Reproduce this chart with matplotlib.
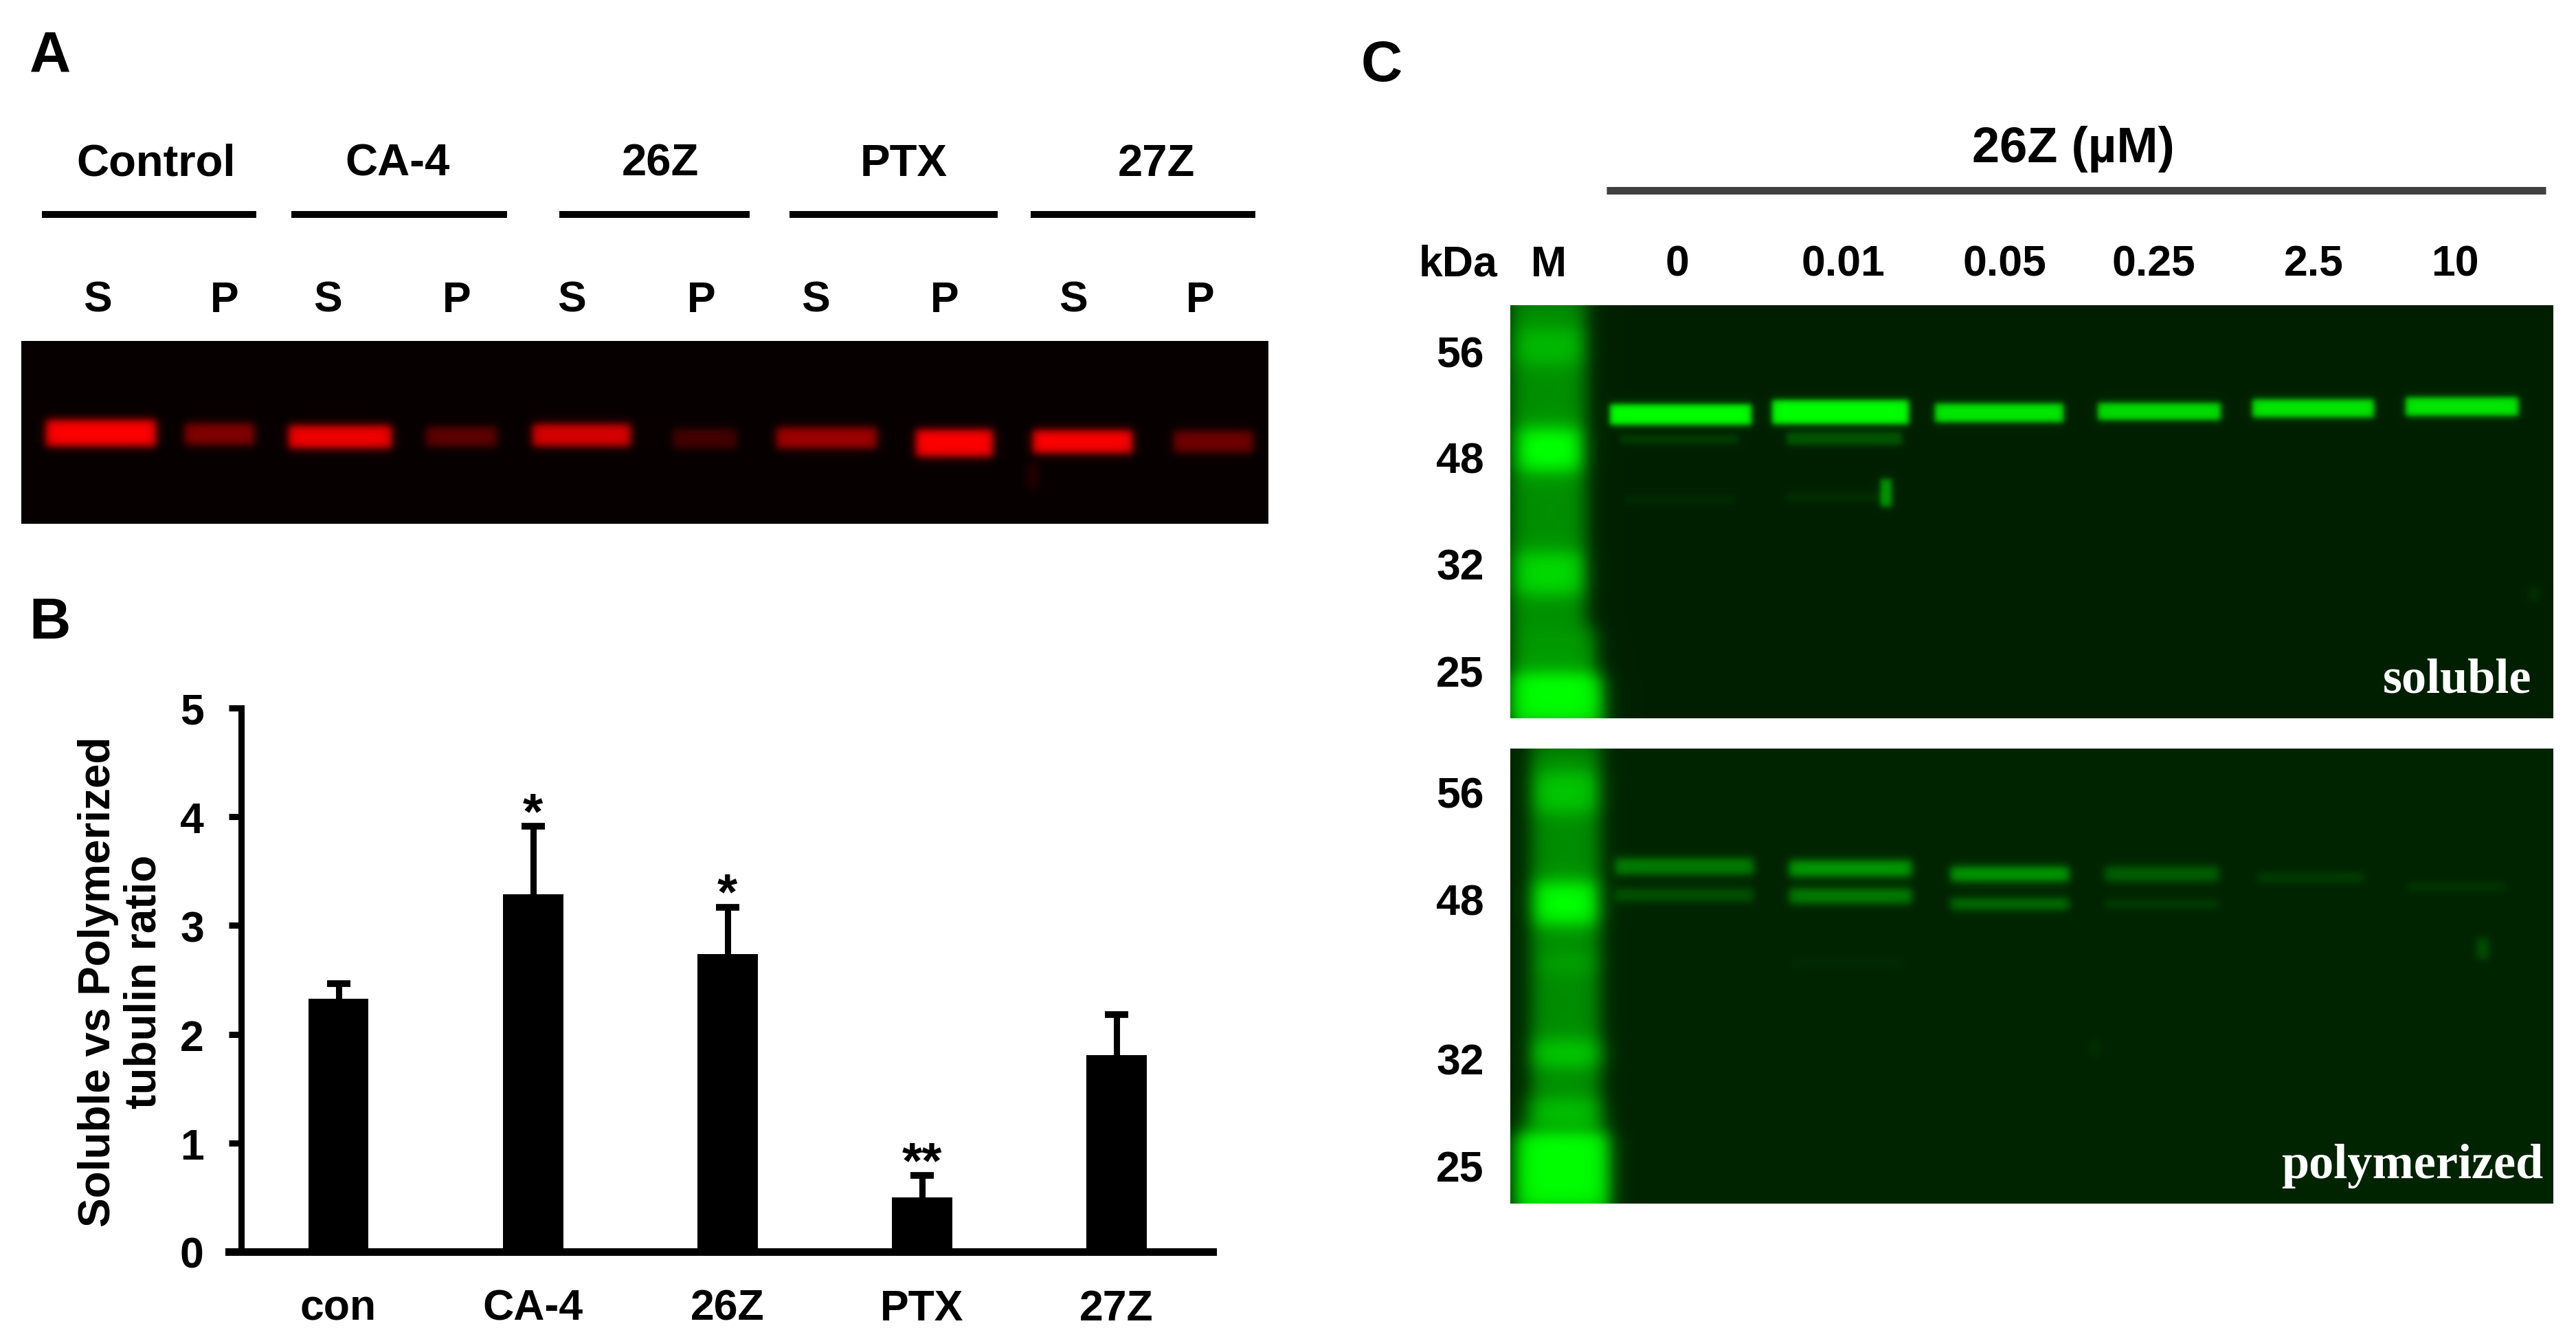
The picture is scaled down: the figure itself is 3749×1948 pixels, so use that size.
import numpy as np
import matplotlib
matplotlib.use("Agg")
import matplotlib.pyplot as plt

W, H = 3749, 1949
plt.rcParams['font.family'] = ['Liberation Sans', 'DejaVu Sans']
plt.rcParams['font.weight'] = 'bold'

# panel B data
drugs = ['con', 'CA-4', '26Z', 'PTX', '27Z']
ratio = [2.325, 3.29, 2.74, 0.50, 1.81]
ratio_err = [0.14, 0.62, 0.43, 0.20, 0.37]
stars = ['', '*', '*', '**', '']

# panel A labels
group_names = ['Control', 'CA-4', '26Z', 'PTX', '27Z']
group_x = [227, 579, 961, 1315, 1683]
group_lines = [(61, 373), (424, 738), (814, 1091), (1149, 1452), (1500, 1827)]
lane_names = ['S', 'P'] * 5
lane_x = [142, 327, 477, 665, 832, 1021, 1187, 1375, 1562, 1747]

# panel A gel bands: x0, x1, y0, y1, strength
red_bands = [
    (67, 227, 612, 650, 1.0), (269, 370, 617, 648, 0.5), (420, 570, 620, 653, 0.95),
    (620, 723, 622, 650, 0.36), (775, 918, 618, 650, 0.85), (979, 1072, 625, 653, 0.25),
    (1130, 1276, 623, 653, 0.62), (1333, 1445, 626, 665, 1.0), (1503, 1648, 627, 660, 1.0),
    (1708, 1824, 628, 659, 0.42), (1496, 1510, 675, 712, 0.14),
]

# panel C labels
conc_names = ['0', '0.01', '0.05', '0.25', '2.5', '10']
conc_x = [2441, 2682, 2917, 3134, 3367, 3573]
kda_names = ['56', '48', '32', '25']
kda_y_soluble = [513, 667, 822, 978]
kda_y_polymer = [1154, 1310, 1542, 1698]

# panel C gel bands
soluble_ladder = [
    (2198, 2308, 430, 915, 0.5), (2205, 2305, 480, 530, 0.2), (2210, 2300, 625, 685, 0.55),
    (2205, 2305, 805, 865, 0.35), (2200, 2322, 915, 990, 0.55), (2198, 2332, 985, 1060, 1.0),
]
soluble_bands = [
    (2343, 2549, 589, 619, 1.0), (2579, 2778, 583, 618, 1.0), (2816, 3003, 588, 615, 0.9),
    (3053, 3232, 587, 612, 0.85), (3278, 3455, 582, 608, 0.9), (3501, 3665, 579, 606, 0.9),
    (2358, 2530, 634, 646, 0.14), (2600, 2768, 630, 648, 0.24),
    (2365, 2525, 722, 734, 0.05), (2600, 2740, 718, 730, 0.07),
    (2737, 2753, 698, 738, 0.55), (3680, 3696, 855, 875, 0.07),
]
polymer_ladder = [
    (2228, 2328, 1080, 1640, 0.48), (2232, 2325, 1125, 1182, 0.28), (2232, 2325, 1285, 1345, 0.55),
    (2240, 2325, 1390, 1415, 0.12), (2228, 2335, 1515, 1552, 0.3), (2215, 2335, 1600, 1660, 0.25),
    (2205, 2342, 1650, 1765, 1.0),
]
polymer_bands = [
    (2351, 2552, 1250, 1273, 0.42), (2351, 2552, 1294, 1312, 0.22),
    (2604, 2782, 1253, 1276, 0.55), (2604, 2782, 1294, 1315, 0.42),
    (2839, 3011, 1262, 1283, 0.55), (2839, 3011, 1308, 1324, 0.36),
    (3063, 3229, 1262, 1283, 0.28), (3063, 3229, 1310, 1322, 0.13),
    (3286, 3441, 1272, 1284, 0.14), (3504, 3648, 1286, 1296, 0.11),
    (2604, 2770, 1396, 1408, 0.04), (3605, 3621, 1366, 1396, 0.22), (3043, 3055, 1514, 1538, 0.07),
]


def gel_image(extent, bands, blur):
    x0, x1, y0, y1 = extent
    xx = np.arange(x0, x1) + 0.5
    yy = np.arange(y0, y1) + 0.5
    img = np.zeros((len(yy), len(xx)))
    for bx0, bx1, by0, by1, amp in bands:
        px = 0.5 * (np.tanh((xx - bx0) / blur) - np.tanh((xx - bx1) / blur))
        py = 0.5 * (np.tanh((yy - by0) / blur) - np.tanh((yy - by1) / blur))
        img = img + amp * np.outer(py, px)
    return img


def draw_gel(fig, extent, bands, channel, base, blur=5, ladder=None):
    x0, x1, y0, y1 = extent
    ax = fig.add_axes([x0 / W, 1 - y1 / H, (x1 - x0) / W, (y1 - y0) / H])
    sig = gel_image(extent, bands, blur)
    if ladder:
        sig = sig + gel_image(extent, ladder, 16)
    rgb = np.zeros(sig.shape + (3,))
    rgb[..., channel] = base + (1 - base) * np.clip(sig, 0, 1)
    ax.imshow(rgb, extent=(x0, x1, y1, y0), aspect='auto', interpolation='nearest')
    ax.axis('off')


def label(fig, x, y, s, size=45, **kw):
    kw.setdefault('ha', 'center')
    fig.text(x / W, 1 - (y + 5) / H, s, fontsize=size, va='center', **kw)


def rule(fig, x0, x1, y, lw=10, color='black'):
    fig.add_artist(plt.Line2D([x0 / W, x1 / W], [1 - y / H, 1 - y / H], color=color,
                              lw=lw * 0.72, solid_capstyle='butt'))


fig = plt.figure(figsize=(W / 100, H / 100), dpi=100, facecolor='white')

# A
label(fig, 73, 78, 'A', size=60)
for name, x, (l0, l1) in zip(group_names, group_x, group_lines):
    label(fig, x, 234, name, size=47)
    rule(fig, l0, l1, 313)
for name, x in zip(lane_names, lane_x):
    label(fig, x, 432, name)
draw_gel(fig, (31, 1846, 497, 763), red_bands, 0, 0.025, blur=7)

# B
label(fig, 73, 902, 'B', size=60)
ax = fig.add_axes([351 / W, 1 - 1822 / H, (1765 - 351) / W, (1822 - 1031) / H])
pos = np.arange(len(drugs))
bars = ax.bar(pos, ratio, width=0.31, color='black',
              yerr=[np.zeros(len(ratio)), ratio_err],
              error_kw=dict(ecolor='black', elinewidth=6.5, capsize=12, capthick=7))
bars.errorbar.lines[1][0].set_visible(False)
ax.set_xlim(-0.5, 4.495)
ax.set_ylim(0, 5)
ax.set_xticks(pos, drugs)
ax.set_yticks(range(6))
ax.tick_params(axis='x', length=0, pad=38, labelsize=45)
ax.tick_params(axis='y', length=13, width=6.5, pad=26, labelsize=45)
for s in ['top', 'right']:
    ax.spines[s].set_visible(False)
ax.spines['left'].set_linewidth(6.5)
ax.spines['bottom'].set_linewidth(8)
ax.spines['bottom'].set_bounds(-0.565, 4.495)
ax.set_ylabel('Soluble vs Polymerized\ntubulin ratio', fontsize=46, fontweight='bold', linespacing=1.15)
ax.yaxis.set_label_coords(-0.0786, 0.498)
for i, star in enumerate(stars):
    if star:
        ax.annotate(star, (i, ratio[i] + ratio_err[i]), xytext=(0, -12), textcoords='offset points',
                    ha='center', va='bottom', fontsize=54)

# C
label(fig, 2011, 91, 'C', size=60)
label(fig, 3017, 212, '26Z (µM)', size=52)
rule(fig, 2338, 3705, 278, lw=11, color='#404040')
label(fig, 2122, 380, 'kDa')
label(fig, 2254, 380, 'M')
for name, x in zip(conc_names, conc_x):
    label(fig, x, 380, name)
for name, y1, y2 in zip(kda_names, kda_y_soluble, kda_y_polymer):
    label(fig, 2125, y1, name)
    label(fig, 2125, y2, name)
draw_gel(fig, (2198, 3716, 445, 1046), soluble_bands, 1, 0.125, ladder=soluble_ladder)
draw_gel(fig, (2198, 3716, 1090, 1752), polymer_bands, 1, 0.14, blur=7, ladder=polymer_ladder)
label(fig, 3684, 985, 'soluble', size=52, ha='right', color='white', family='Liberation Serif')
label(fig, 3701, 1692, 'polymerized', size=52, ha='right', color='white', family='Liberation Serif')

plt.savefig('out.png', dpi=100)
